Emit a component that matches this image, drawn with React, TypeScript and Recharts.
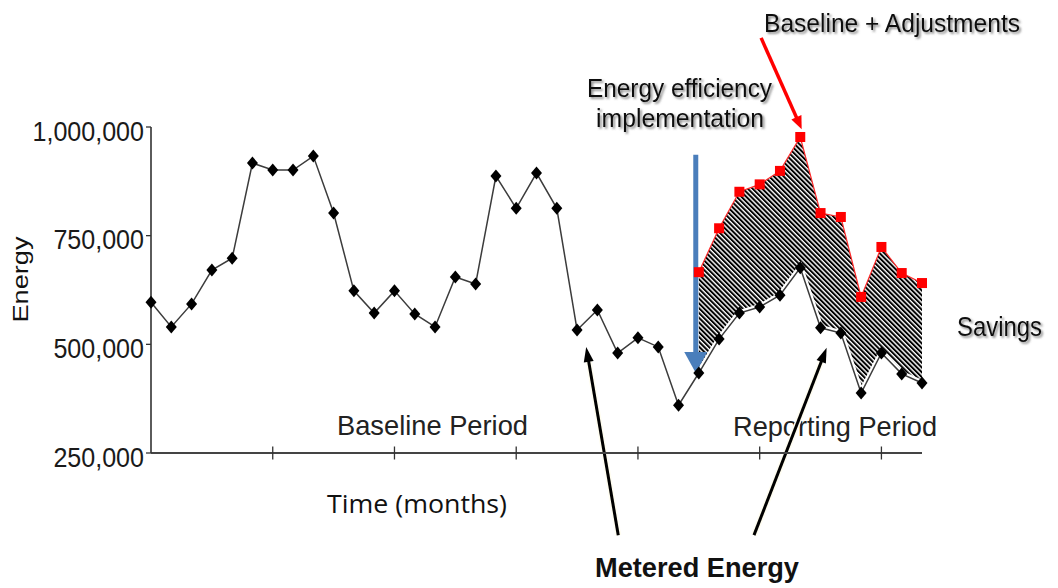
import { ComposedChart, Line, Area, XAxis, YAxis, ReferenceLine } from 'recharts';

const W = 1058;
const H = 588;

// month index along the time axis
const months = [
  0, 1, 2, 3, 4, 5, 6, 7, 8, 9, 10, 11, 12, 13, 14, 15, 16, 17, 18, 19,
  20, 21, 22, 23, 24, 25, 26, 27, 28, 29, 30, 31, 32, 33, 34, 35, 36, 37, 38,
];
// metered energy, whole period
const metered = [
  597000, 540000, 593000, 671000, 698000, 917000, 901000, 901000, 933000, 802000,
  623000, 572000, 623000, 570000, 540000, 655000, 639000, 887000, 813000, 894000,
  813000, 533000, 579000, 480000, 515000, 494000, 360000, 434000, 512000, 572000,
  586000, 613000, 676000, 538000, 526000, 388000, 480000, 432000, 411000,
];
// baseline + adjustments, reporting period only
const reportStart = 27;
const adjusted = [
  666000, 767000, 851000, 868000, 899000, 977000, 802000, 793000, 609000, 724000, 664000, 641000,
];
const xTicks = [6, 12, 18, 24, 30, 36];
const yTicks = [250000, 500000, 750000, 1000000];

const rows = months.map((m, i) => {
  const adj = i >= reportStart ? adjusted[i - reportStart] : null;
  return {
    m,
    metered: metered[i],
    adjusted: adj,
    halo: adj == null ? null : metered[i],
    savings: adj == null ? null : [metered[i], adj],
  };
});

const FONT = '"Liberation Sans", Arial, sans-serif';

const Diamond = (p: any) => {
  if (p.cx == null || p.cy == null || p.value == null) return <g key={p.index} />;
  const { cx, cy } = p;
  return (
    <path key={p.index} d={`M${cx},${cy - 6.5} L${cx + 5.5},${cy} L${cx},${cy + 6.5} L${cx - 5.5},${cy} Z`} fill="#000" />
  );
};

const Square = (p: any) => {
  if (p.cx == null || p.cy == null || p.value == null) return <g key={p.index} />;
  return <rect key={p.index} x={p.cx - 5} y={p.cy - 5} width={10} height={10} fill="#ff0000" />;
};

const YTick = (p: any) => (
  <text
    transform={`translate(${p.x},${p.y + 13.5}) scale(0.88,1)`}
    textAnchor="end"
    fontSize={28.5}
    fontFamily={FONT}
    fill="#1a1a1a"
  >
    {Number(p.payload.value).toLocaleString('en-US')}
  </text>
);

const XTick = (p: any) => (
  <line x1={p.x} x2={p.x} y1={p.y - 6.5} y2={p.y + 6.5} stroke="#333" strokeWidth={1.3} />
);

const arrow = (color: string, width: number, headLen: number, headW: number, halo = false) => (p: any) => {
  const { x1, y1, x2, y2 } = p;
  const dx = x2 - x1;
  const dy = y2 - y1;
  const len = Math.hypot(dx, dy) || 1;
  const ux = dx / len;
  const uy = dy / len;
  const bx = x2 - ux * headLen;
  const by = y2 - uy * headLen;
  const nx = (-uy * headW) / 2;
  const ny = (ux * headW) / 2;
  return (
    <g>
      {halo && <line x1={x1} y1={y1} x2={bx} y2={by} stroke="#fffdf0" strokeWidth={width + 3} />}
      <line x1={x1} y1={y1} x2={bx + ux * 2} y2={by + uy * 2} stroke={color} strokeWidth={width} />
      <polygon points={`${x2},${y2} ${bx + nx},${by + ny} ${bx - nx},${by - ny}`} fill={color} />
    </g>
  );
};

const shadow = 'url(#txtShadow)';

export default function App() {
  return (
    <div style={{ position: 'absolute', left: 0, top: 0, width: W, height: H, background: '#fff', overflow: 'hidden' }}>
      <svg width={W} height={H} style={{ position: 'absolute', left: 0, top: 0 }}>
        <defs>
          <pattern id="hatch" width="3.4" height="3.4" patternUnits="userSpaceOnUse" patternTransform="rotate(-45)">
            <rect width="3.4" height="3.4" fill="#fff" />
            <rect width="2" height="3.4" fill="#000" />
          </pattern>
          <filter id="txtShadow" x="-10%" y="-30%" width="120%" height="160%">
            <feDropShadow dx="1.8" dy="1.8" stdDeviation="1.2" floodColor="#555" floodOpacity="0.7" />
          </filter>
        </defs>
        <g fontFamily={FONT} fill="#111">
          <text x={764} y={32} fontSize={25} textLength={256} lengthAdjust="spacingAndGlyphs" filter={shadow}>
            Baseline + Adjustments
          </text>
          <text x={587} y={97} fontSize={26.5} textLength={185} lengthAdjust="spacingAndGlyphs" filter={shadow}>
            Energy efficiency
          </text>
          <text x={596} y={127} fontSize={26.5} textLength={168} lengthAdjust="spacingAndGlyphs" filter={shadow}>
            implementation
          </text>
          <text x={957} y={336} fontSize={28.5} textLength={85} lengthAdjust="spacingAndGlyphs" filter={shadow}>
            Savings
          </text>
          <text x={337} y={435} fontSize={28} textLength={191} lengthAdjust="spacingAndGlyphs" fill="#222">
            Baseline Period
          </text>
          <text x={733} y={436} fontSize={28} textLength={204} lengthAdjust="spacingAndGlyphs" fill="#222">
            Reporting Period
          </text>
          <text
            x={327}
            y={513}
            fontSize={25}
            fontFamily='"Open Sans", "Noto Sans", sans-serif'
            textLength={180}
            lengthAdjust="spacingAndGlyphs"
          >
            Time (months)
          </text>
          <text x={595} y={577} fontSize={28} fontWeight="bold" textLength={204} lengthAdjust="spacingAndGlyphs">
            Metered Energy
          </text>
          <text
            transform="translate(28,279.5) rotate(-90)"
            textAnchor="middle"
            fontSize={22}
            textLength={86}
            lengthAdjust="spacingAndGlyphs"
          >
            Energy
          </text>
        </g>
      </svg>
      <div style={{ position: 'absolute', left: 0, top: 0 }}>
        <ComposedChart width={W} height={H} data={rows} margin={{ top: 127, right: 136, bottom: 105, left: 0 }}>
          <XAxis
            dataKey="m"
            type="number"
            domain={[0, 38]}
            ticks={xTicks}
            interval={0}
            height={30}
            tickSize={0}
            tickMargin={0}
            tickLine={false}
            tick={XTick}
            axisLine={{ stroke: '#444', strokeWidth: 1.8 }}
          />
          <YAxis
            type="number"
            domain={[250000, 1000000]}
            ticks={yTicks}
            interval={0}
            width={151}
            tickSize={5}
            tickMargin={2}
            tick={YTick}
            tickLine={{ stroke: '#333', strokeWidth: 1.3 }}
            axisLine={{ stroke: '#333', strokeWidth: 1.6 }}
            allowDataOverflow
          />
          <Area
            dataKey="savings"
            type="linear"
            fill="url(#hatch)"
            fillOpacity={1}
            stroke="none"
            dot={false}
            activeDot={false}
            isAnimationActive={false}
          />
          <Line
            dataKey="adjusted"
            type="linear"
            stroke="#ff2a2a"
            strokeWidth={1.2}
            dot={Square}
            activeDot={false}
            isAnimationActive={false}
          />
          <Line
            dataKey="halo"
            type="linear"
            stroke="#fff"
            strokeWidth={6}
            dot={false}
            activeDot={false}
            isAnimationActive={false}
          />
          <Line
            dataKey="metered"
            type="linear"
            stroke="#3c3c3c"
            strokeWidth={1.5}
            dot={Diamond}
            activeDot={false}
            isAnimationActive={false}
          />
          <ReferenceLine
            segment={[{ x: 26.85, y: 936000 }, { x: 26.85, y: 434000 }]}
            ifOverflow="visible"
            shape={arrow('#4a7ebb', 5, 21, 23)}
          />
          <ReferenceLine
            segment={[{ x: 30.07, y: 1205000 }, { x: 32.07, y: 995000 }]}
            ifOverflow="visible"
            shape={arrow('#ff0000', 3.5, 13, 11)}
          />
          <ReferenceLine
            segment={[{ x: 23.03, y: 61000 }, { x: 21.45, y: 494000 }]}
            ifOverflow="visible"
            shape={arrow('#000', 3, 15, 10, true)}
          />
          <ReferenceLine
            segment={[{ x: 29.72, y: 61000 }, { x: 33.3, y: 492000 }]}
            ifOverflow="visible"
            shape={arrow('#000', 3, 15, 10, true)}
          />
        </ComposedChart>
      </div>
    </div>
  );
}
